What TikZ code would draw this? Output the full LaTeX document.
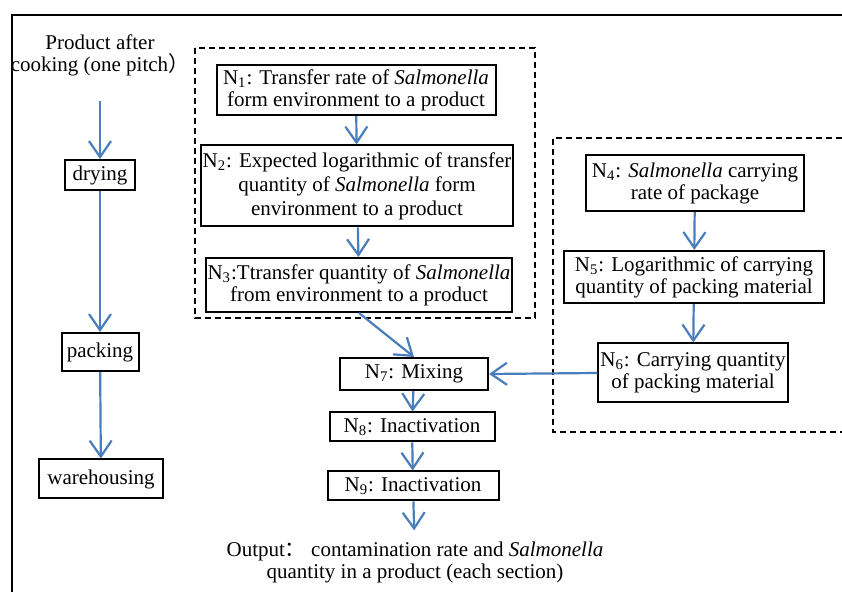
\documentclass[tikz,border=0pt]{standalone}
\usepackage{fontspec}
\setmainfont{Liberation Serif}
\newfontfamily\cjk{Noto Sans CJK SC}
\usepackage{xcolor}
\usetikzlibrary{arrows.meta}
\definecolor{flowblue}{RGB}{74,126,187}

\begin{document}
\begin{tikzpicture}[x=0.5pt, y=-0.5pt, font=\fontsize{10.5}{11}\selectfont,
    box/.style={draw, line width=1pt, align=center, inner sep=1pt},
    flow/.style={draw=flowblue, line width=1.1pt, -{Straight Barb[length=8pt,width=11pt,line width=1.1pt]}},
    dashframe/.style={line width=0.8pt, dash pattern=on 3pt off 2pt}]
    \useasboundingbox (0,0) rectangle (842,592);

    % outer frame (cut off at right and bottom)
    \draw[line width=1.2pt] (12,592) -- (12,15) -- (842,15);

    % process line on the left
    \node (cook) at (100,55) [align=center] {Product after\\cooking (one pitch{\cjk ）}};
    \node (dry) at (100,175) [box, minimum width=35pt, minimum height=15pt] {drying};
    \node (pack) at (100,352) [box, minimum width=38.5pt, minimum height=19pt] {packing};
    \node (store) at (101,479) [box, minimum width=62pt, minimum height=19.5pt] {warehousing};

    \draw[flow, shorten <=9pt] (cook.south) -- (dry);
    \draw[flow] (dry) -- (pack);
    \draw[flow] (pack) -- (store);

    % environment group
    \draw[dashframe] (195,48) rectangle (535,318);
    \node (n1) at (356,90) [box, minimum width=139.5pt, minimum height=25pt]
        {N\textsubscript{1}: Transfer rate of \textit{Salmonella}\\form environment to a product};
    \node (n2) at (357,186) [box, minimum width=147.5pt, minimum height=40.5pt, font=\fontsize{10.5}{12}\selectfont]
        {N\textsubscript{2}: Expected logarithmic of transfer\\quantity of \textit{Salmonella} form\\environment to a product};
    \node (n3) at (359,285) [box, minimum width=153pt, minimum height=27pt]
        {N\textsubscript{3}:Ttransfer quantity of \textit{Salmonella}\\from environment to a product};

    % package group
    \draw[dashframe] (842,138) -- (553,138) -- (553,432) -- (842,432);
    \node (n4) at (695,183) [box, minimum width=109pt, minimum height=28pt]
        {N\textsubscript{4}: \textit{Salmonella} carrying\\rate of package};
    \node (n5) at (694,277) [box, minimum width=130pt, minimum height=26pt]
        {N\textsubscript{5}: Logarithmic of carrying\\quantity of packing material};
    \node (n6) at (693,373) [box, minimum width=89.5pt, minimum height=29.5pt]
        {N\textsubscript{6}: Carrying quantity\\of packing material};

    % mixing and inactivation
    \node (n7) at (414,374) [box, minimum width=74pt, minimum height=16pt] {N\textsubscript{7}: Mixing};
    \node (n8) at (412,427) [box, minimum width=82.5pt, minimum height=14.5pt] {N\textsubscript{8}: Inactivation};
    \node (n9) at (413,486) [box, minimum width=85.5pt, minimum height=14.5pt] {N\textsubscript{9}: Inactivation};
    \node (out) at (415,562) [align=center]
        {Output{\cjk ：} contamination rate and \textit{Salmonella}\\quantity in a product (each section)};

    \draw[flow] (n1) -- (n2);
    \draw[flow] (n2) -- (n3);
    \draw[flow] (n4) -- (n5);
    \draw[flow] (n5) -- (n6);
    \draw[flow] (n3.south) -- (n7.north);
    \draw[flow] (n6.west) -- (n7.east);
    \draw[flow] (n7) -- (n8);
    \draw[flow] (n8) -- (n9);
    \draw[flow, shorten >=2pt] (n9) -- (out);
\end{tikzpicture}
\end{document}
